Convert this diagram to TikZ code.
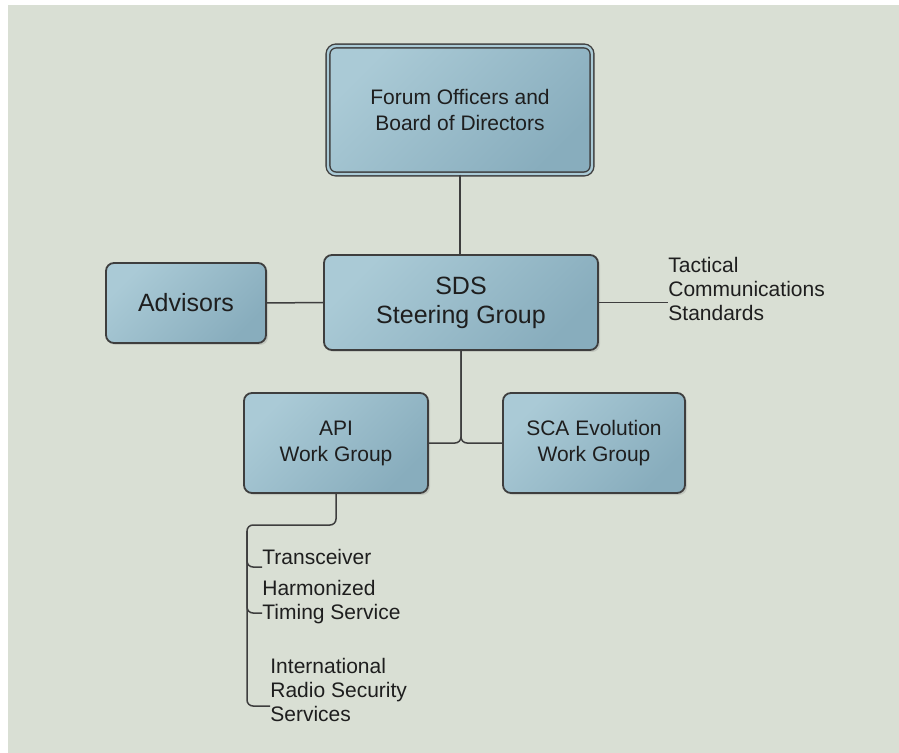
\documentclass[tikz,border=0pt]{standalone}
\usepackage{fontspec}
\setmainfont{Liberation Sans}
\usetikzlibrary{shadows}
\definecolor{panelgrey}{RGB}{217,223,212}
\definecolor{boxlight}{RGB}{170,202,214}
\definecolor{boxdark}{RGB}{136,173,189}
\definecolor{edgegrey}{RGB}{62,62,62}
\definecolor{textgrey}{RGB}{30,30,30}
\tikzset{groupbox/.style={
        draw=edgegrey, line width=0.9pt, rounded corners=4pt,
        left color=boxlight, right color=boxdark, shading angle=45,
        drop shadow={shadow xshift=1pt,shadow yshift=-1pt,opacity=0.25},
        align=center, text=textgrey,
        font=\fontsize{10.5}{13}\selectfont},
    bigbox/.style={font=\fontsize{12.5}{14.5}\selectfont},
    listlabel/.style={anchor=west, inner sep=0pt, align=left, text=textgrey,
        font=\fontsize{10.5}{12.2}\selectfont},
    link/.style={draw=edgegrey, line width=0.75pt, rounded corners=3pt}}

\begin{document}
\begin{tikzpicture}[x=0.5pt,y=-0.5pt]
      \useasboundingbox (0,0) rectangle (899,753);
      \fill[panelgrey] (8,5) rectangle (899,753);
      \node[groupbox, double=boxlight, double distance=1.2pt, line width=0.7pt,
        minimum width=132pt, minimum height=64pt] (forum) at (460,110) {Forum Officers and\\Board of Directors};
      \node[groupbox, bigbox, minimum width=137pt, minimum height=47.5pt] (sds) at (461,302.5) {SDS\\Steering Group};
      \node[groupbox, bigbox, minimum width=80pt, minimum height=40pt] (advisors) at (186,303) {Advisors};
      \node[groupbox, minimum width=92pt, minimum height=50pt] (api) at (336,443) {API\\Work Group};
      \node[groupbox, minimum width=91pt, minimum height=50pt] (sca) at (594,443) {SCA Evolution\\Work Group};
      \node[listlabel] (tactical) at (668,289) {Tactical\\Communications\\Standards};
      \node[listlabel] (transceiver) at (262,557) {Transceiver};
      \node[listlabel] (timing) at (262,602) {Harmonized\\Timing Service};
      \node[listlabel] (security) at (270,690) {International\\Radio Security\\Services};
      \coordinate (trunk) at (247,525);
      \draw[link] (forum.south) -- (forum.south |- sds.north);
      \draw[link] (advisors.east) -- (sds.west);
      \draw[link] (sds.east) -- (sds.east -| tactical.west);
      \draw[link] (sds.south) |- (api.east);
      \draw[link] (sds.south) |- (sca.west);
      \draw[link] (api.south) |- (trunk) |- ([yshift=-8pt]security.west);
      \draw[link] ([yshift=-3pt]trunk) |- ([yshift=-5pt]transceiver.west);
      \draw[link] ([yshift=-3pt]trunk) |- ([yshift=-5.5pt]timing.west);
\end{tikzpicture}
\end{document}
